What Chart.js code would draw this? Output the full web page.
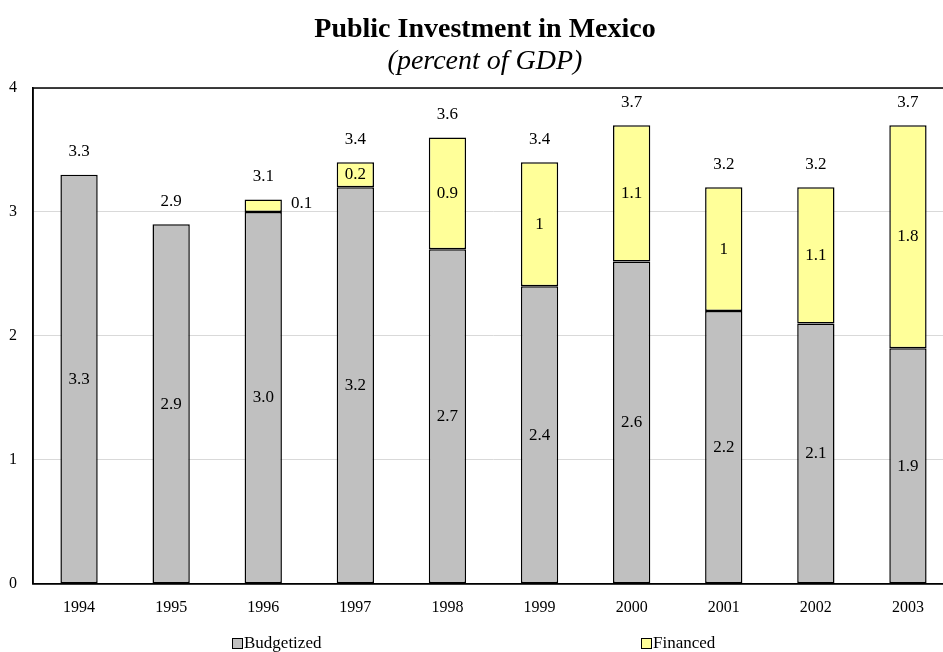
<!DOCTYPE html>
<html>
<head>
<meta charset="utf-8">
<script src="https://cdn.jsdelivr.net/npm/chart.js@4.4.1/dist/chart.umd.min.js"></script>
<style>
  body { margin: 0; background: #fff; overflow: hidden; }
  #wrap { width: 943px; height: 652px; overflow: hidden; }
  #invChart { display: block; }
</style>
</head>
<body>
<div id="wrap"><canvas id="invChart" width="960" height="652"></canvas></div>
<script>
var years = ['1994', '1995', '1996', '1997', '1998', '1999', '2000', '2001', '2002', '2003'];
var budgetized = [3.3, 2.9, 3.0, 3.2, 2.7, 2.4, 2.6, 2.2, 2.1, 1.9];
var financed = [null, null, 0.1, 0.2, 0.9, 1.0, 1.1, 1.0, 1.1, 1.8];
var totals = [3.3, 2.9, 3.1, 3.4, 3.6, 3.4, 3.7, 3.2, 3.2, 3.7];
var yTicks = [0, 1, 2, 3, 4];

var serif = '"Liberation Serif", "Times New Roman", serif';
Chart.defaults.font.family = serif;
Chart.defaults.color = '#000';

// headings, value labels, plot frame and the spread-out legend along the bottom
var extras = {
  id: 'extras',
  afterDatasetsDraw: function(chart) {
    var ctx = chart.ctx;
    var area = chart.chartArea;
    var y = chart.scales.y;
    var metaB = chart.getDatasetMeta(0);
    var metaF = chart.getDatasetMeta(1);
    ctx.save();

    // headings sit over the middle of the plot, which runs past the visible edge
    ctx.fillStyle = '#000';
    ctx.textAlign = 'center';
    ctx.textBaseline = 'alphabetic';
    ctx.font = 'bold 28px ' + serif;
    ctx.fillText('Public Investment in Mexico', 485, 37);
    ctx.font = 'italic 28px ' + serif;
    ctx.fillText('(percent of GDP)', 485, 69);

    ctx.font = '17px ' + serif;
    ctx.textBaseline = 'middle';
    for (var i = 0; i < years.length; i++) {
      var bar = metaB.data[i];
      var yb = y.getPixelForValue(budgetized[i] / 2);
      ctx.fillText(budgetized[i].toFixed(1), bar.x, yb);
      if (financed[i] != null) {
        var fbar = metaF.data[i];
        var yf = y.getPixelForValue(budgetized[i] + financed[i] / 2);
        if (financed[i] < 0.15) {
          // too thin to hold its label, put it beside the bar
          ctx.textAlign = 'left';
          ctx.fillText(String(financed[i]), fbar.x + fbar.width / 2 + 9, yf - 2);
          ctx.textAlign = 'center';
        } else {
          ctx.fillText(String(financed[i]), fbar.x, yf);
        }
      }
      ctx.fillText(totals[i].toFixed(1), bar.x, y.getPixelForValue(totals[i]) - 23);
    }
    // frame
    ctx.strokeStyle = '#000';
    ctx.lineWidth = 1.5;
    ctx.strokeRect(area.left, area.top, area.right - area.left, area.bottom - area.top);

    // legend
    var items = [
      { label: 'Budgetized', color: '#C0C0C0', x: 232 },
      { label: 'Financed', color: '#FFFF99', x: 641 }
    ];
    ctx.lineWidth = 1;
    ctx.textAlign = 'left';
    ctx.textBaseline = 'middle';
    items.forEach(function(it) {
      ctx.fillStyle = it.color;
      ctx.fillRect(it.x + 0.5, 638.5, 10, 10);
      ctx.strokeRect(it.x + 0.5, 638.5, 10, 10);
      ctx.fillStyle = '#000';
      ctx.fillText(it.label, it.x + 12, 644);
    });
    ctx.restore();
  }
};

new Chart(document.getElementById('invChart'), {
  type: 'bar',
  data: {
    labels: years,
    datasets: [{
      label: 'Budgetized',
      data: budgetized,
      backgroundColor: '#C0C0C0',
      borderColor: '#000',
      borderWidth: 1.5,
      borderSkipped: false
    }, {
      label: 'Financed',
      data: financed,
      backgroundColor: '#FFFF99',
      borderColor: '#000',
      borderWidth: 1.5,
      borderSkipped: false
    }]
  },
  options: {
    responsive: false,
    animation: false,
    layout: { padding: { left: -7, right: 6, top: 88, bottom: 21 } },
    datasets: { bar: { categoryPercentage: 1, barPercentage: 0.405 } },
    plugins: {
      legend: { display: false },
      tooltip: { enabled: false }
    },
    scales: {
      x: {
        stacked: true,
        grid: { display: false, drawTicks: false },
        border: { color: '#000', width: 1.5 },
        ticks: { font: { size: 16 }, padding: 14, color: '#000' }
      },
      y: {
        stacked: true,
        min: 0,
        max: 4,
        afterBuildTicks: function(axis) {
          axis.ticks = yTicks.map(function(v) { return { value: v }; });
        },
        grid: { color: '#d9d9d9', lineWidth: 1, drawTicks: false },
        border: { color: '#000', width: 1.5 },
        ticks: { font: { size: 16 }, padding: 16, color: '#000' }
      }
    }
  },
  plugins: [extras]
});
</script>
</body>
</html>
